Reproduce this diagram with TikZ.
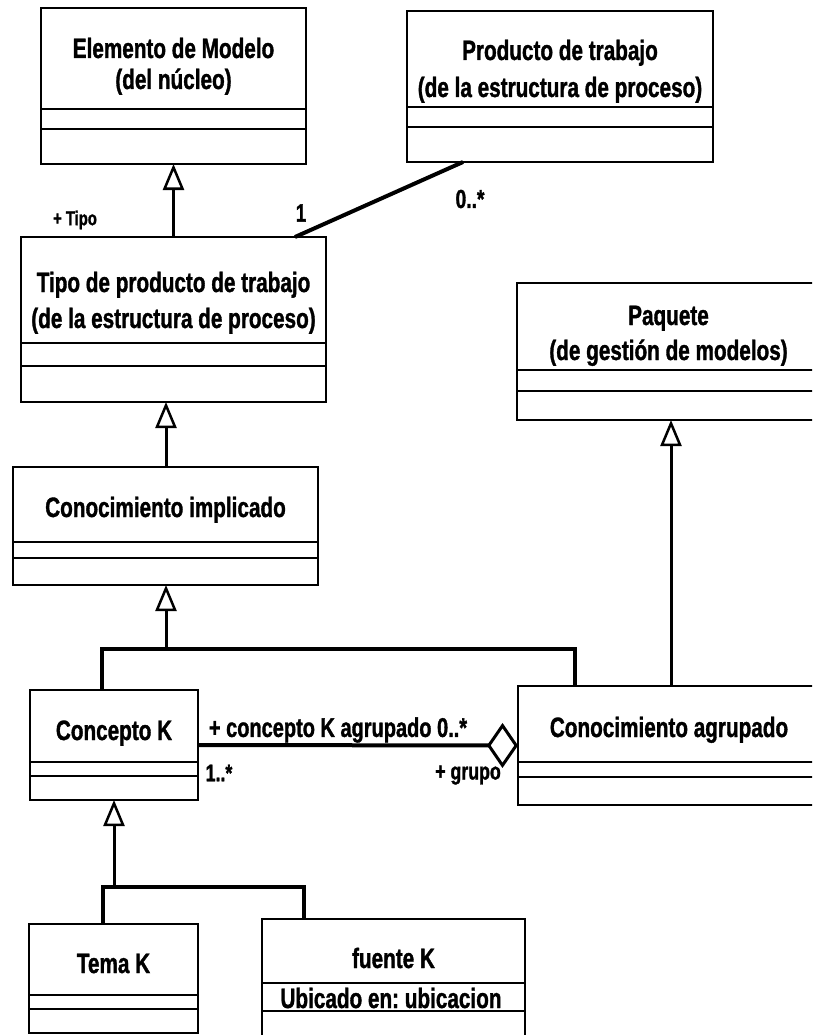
\documentclass[tikz,border=0pt]{standalone}
\usepackage{fontspec}
\setmainfont{Liberation Sans}[FakeStretch=0.74, BoldFeatures={FakeBold=1.2}]
\usetikzlibrary{arrows.meta}
\frenchspacing

\tikzset{
  cls/.style={draw, line width=2pt, inner sep=0pt, outer sep=0pt, anchor=north west},
  divider/.style={line width=2.2pt},
  title/.style={inner sep=0pt, anchor=base, font=\bfseries\fontsize{28}{32}\selectfont},
  lbl/.style={inner sep=0pt, font=\bfseries\fontsize{#1}{#1}\selectfont},
  lbl/.default=24,
  gen/.style={line width=3pt, -{Triangle[open,length=26pt,width=21pt,line width=2.5pt]}},
  assoc/.style={line width=4pt},
  agg/.style={line width=4pt, -{Diamond[open,length=31pt,width=45pt,line width=3pt]}},
  treeline/.style={line width=4.5pt, line join=miter},
}

% class box: name, x1, y1, x2, y2, first divider, second divider
\newcommand\umlclass[7]{%
  \node[cls, minimum width={(#4-#2)*1pt}, minimum height={(#5-#3)*1pt}] (#1) at (#2,#3) {};
  \draw[divider] (#2,#6) -- (#4,#6);
  \draw[divider] (#2,#7) -- (#4,#7);
}

\begin{document}
\begin{tikzpicture}[x=1pt, y=-1pt]
  \useasboundingbox (0,0) rectangle (812,1035);
  \clip (0,0) rectangle (812,1035);

  % classes
  \umlclass{elem}{41}{8}{306}{164}{109}{129}
  \node[title] (elemA) at (173.5,58) {Elemento de Modelo};
  \node[title] (elemB) at (173.5,89) {(del núcleo)};

  \umlclass{prod}{407}{11}{713}{162}{107}{127}
  \node[title] (prodA) at (560,60) {Producto de trabajo};
  \node[title] (prodB) at (560,97) {(de la estructura de proceso)};

  \umlclass{tipo}{21}{237}{326}{402}{343}{366}
  \node[title] (tipoA) at (173.5,292) {Tipo de producto de trabajo};
  \node[title] (tipoB) at (173.5,328) {(de la estructura de proceso)};

  \umlclass{impl}{13}{467}{318}{585}{542}{558}
  \node[title] (implA) at (165.5,517) {Conocimiento implicado};

  \umlclass{paq}{517}{283}{820}{420}{370}{391}
  \node[title] (paqA) at (668.5,325) {Paquete};
  \node[title] (paqB) at (668.5,360) {(de gestión de modelos)};

  \umlclass{conc}{30}{690}{198}{800}{762}{776}
  \node[title] (concA) at (114,740) {Concepto K};

  \umlclass{agr}{518}{686}{820}{805}{762}{777}
  \node[title] (agrA) at (669,737) {Conocimiento agrupado};

  \umlclass{tema}{29}{924}{198}{1033}{995}{1009}
  \node[title] (temaA) at (113.5,973) {Tema K};

  \umlclass{fuente}{262}{919}{525}{1045}{983}{1011}
  \node[title] (fuenteA) at (393.5,968) {fuente K};
  \node[title] (fuenteB) at (391,1008) {Ubicado en: ubicacion};

  % generalizations
  \draw[gen] (tipo.north) -- (elem.south);
  \coordinate (g2) at (166,0);
  \draw[gen] (impl.north -| g2) -- (tipo.south -| g2);

  \coordinate (j1) at (166,649);
  \coordinate (t1a) at (102,649);
  \coordinate (t1b) at (575,649);
  \draw[gen] (j1) -- (impl.south -| j1);
  \draw[treeline] (conc.north -| t1a) -- (t1a) -- (t1b) -- (agr.north -| t1b);

  \coordinate (pk) at (671,0);
  \draw[gen] (agr.north -| pk) -- (paq.south -| pk);

  \coordinate (j2) at (114,887);
  \coordinate (t2a) at (103,887);
  \coordinate (t2b) at (304,887);
  \draw[gen] (j2) -- (conc.south -| j2);
  \draw[treeline] (tema.north -| t2a) -- (t2a) -- (t2b) -- (fuente.north -| t2b);

  % association Tipo -- Producto
  \coordinate (a1) at (295,0);
  \coordinate (a2) at (463,0);
  \draw[assoc] (tipo.north -| a1) -- (prod.south -| a2);
  \node[lbl=20] (tipoRole) at (75,220) {+ Tipo};
  \node[lbl=25] (multOne) at (301,213) {1};
  \node[lbl=26] (multMany) at (470,199) {0..*};

  % aggregation Concepto K -- Conocimiento agrupado
  \draw[agg] (conc.east) -- (agr.west);
  \node[lbl=27] (roleConc) at (338,730) {+ concepto K agrupado 0..*};
  \node[lbl=24] (multConc) at (219,773) {1..*};
  \node[lbl=24] (roleGrupo) at (468,775) {+ grupo};
\end{tikzpicture}
\end{document}
